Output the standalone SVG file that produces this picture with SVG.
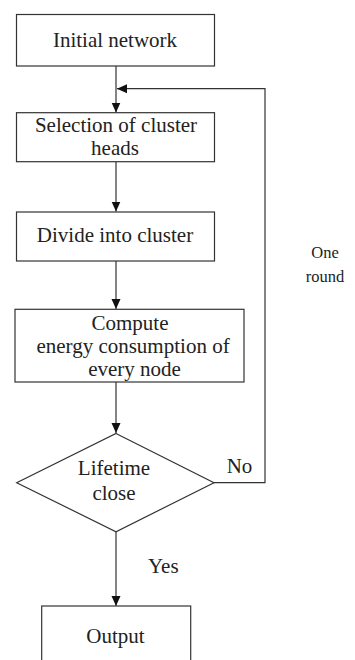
<svg xmlns="http://www.w3.org/2000/svg" width="355" height="660" viewBox="0 0 355 660">
<style>
.box{fill:#fff;stroke:#333;stroke-width:1.2}
.ln{fill:none;stroke:#333;stroke-width:1.2}
text{font-family:"Liberation Serif","Times New Roman",serif;font-size:21px;fill:#222}
.c{text-anchor:middle}
.s{font-size:16.5px}
</style>
<defs>
<marker id="ah" viewBox="0 0 10 10" refX="10" refY="5" markerWidth="10" markerHeight="10" markerUnits="userSpaceOnUse" orient="auto">
<path d="M0,0.5 L10,5 L0,9.5 Z" fill="#111"/>
</marker>
</defs>
<g id="connectors">
<line class="ln" x1="116" y1="66" x2="116" y2="112.5" marker-end="url(#ah)"/>
<line class="ln" x1="116" y1="162" x2="116" y2="211.5" marker-end="url(#ah)"/>
<line class="ln" x1="116" y1="261" x2="116" y2="309" marker-end="url(#ah)"/>
<line class="ln" x1="116" y1="382" x2="116" y2="433" marker-end="url(#ah)"/>
<line class="ln" x1="116" y1="532" x2="116" y2="606" marker-end="url(#ah)"/>
<polyline class="ln" points="214,482.7 265,482.7 265,88.7 117,88.7" marker-end="url(#ah)"/>
</g>
<g id="n1"><rect class="box" x="16.5" y="14.5" width="198" height="51.5"/><text class="c" x="115" y="46.5">Initial network</text></g>
<g id="n2"><rect class="box" x="16.5" y="112.7" width="198" height="49"/><text class="c" x="116" y="131.5">Selection of cluster</text><text class="c" x="115" y="155">heads</text></g>
<g id="n3"><rect class="box" x="16.5" y="212" width="198" height="49"/><text class="c" x="115" y="241.5">Divide into cluster</text></g>
<g id="n4"><rect class="box" x="15" y="309.3" width="229" height="72.7"/><text class="c" x="130" y="330">Compute</text><text class="c" x="133" y="353">energy consumption of</text><text class="c" x="134.5" y="375.5">every node</text></g>
<g id="n5"><polygon class="box" points="116,433.5 214,482.7 116,531.8 16.7,482.7"/><text class="c" x="114" y="475">Lifetime</text><text class="c" x="114" y="500">close</text></g>
<g id="n6"><rect class="box" x="41.7" y="606" width="149" height="70"/><text class="c" x="115.5" y="642.5">Output</text></g>
<g id="labels">
<text class="c" x="239.5" y="472.5">No</text>
<text x="148" y="573">Yes</text>
<text class="c s" x="325" y="258">One</text>
<text class="c s" x="325" y="281.5">round</text>
</g>
</svg>
